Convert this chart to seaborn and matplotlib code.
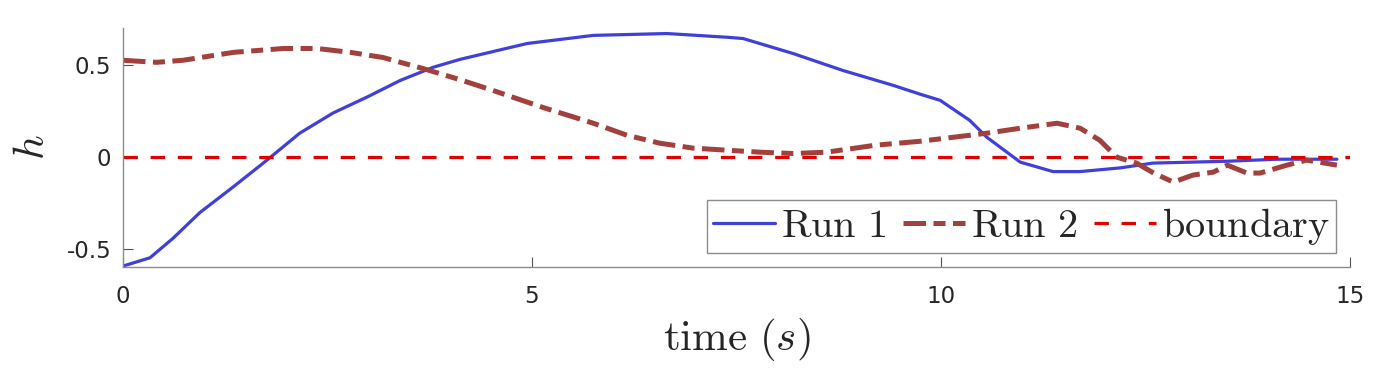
import matplotlib
matplotlib.use("Agg")
import matplotlib.pyplot as plt
import seaborn as sns
import pandas as pd

# ---- data ----
t_run1 = [0, 0.33, 0.61, 0.94, 1.35, 1.76, 2.16, 2.57, 2.98, 3.39, 3.79, 4.12, 4.94,
          5.75, 6.65, 7.38, 7.58, 8.19, 8.8, 9.41, 9.74, 9.99, 10.35, 10.56, 10.97,
          11.37, 11.7, 12.19, 12.59, 13.5, 14.11, 14.84]
h_run1 = [-0.59, -0.545, -0.44, -0.30, -0.16, -0.016, 0.13, 0.24, 0.325, 0.416, 0.487,
          0.53, 0.616, 0.66, 0.67, 0.65, 0.643, 0.562, 0.47, 0.39, 0.342, 0.308, 0.2,
          0.108, -0.027, -0.078, -0.078, -0.058, -0.032, -0.022, -0.011, -0.011]

t_run2 = [0, 0.41, 0.73, 1.35, 1.96, 2.37, 2.78, 3.18, 3.67, 4.12, 4.52, 5.13, 5.75,
          6.16, 6.56, 6.97, 7.79, 8.19, 8.6, 9.2, 9.74, 10.56, 10.97, 11.42, 11.70,
          11.94, 12.15, 12.39, 12.6, 12.84, 13.08, 13.33, 13.5, 13.74, 13.9, 14.23,
          14.47, 14.84]
h_run2 = [0.525, 0.514, 0.525, 0.568, 0.589, 0.589, 0.568, 0.54, 0.48, 0.42, 0.362,
          0.27, 0.184, 0.119, 0.076, 0.049, 0.027, 0.02, 0.027, 0.065, 0.086, 0.13,
          0.157, 0.184, 0.157, 0.092, 0.0, -0.032, -0.086, -0.135, -0.097, -0.081,
          -0.043, -0.086, -0.086, -0.043, -0.016, -0.043]

t_boundary = [0, 15]
h_boundary = [0, 0]

series_labels = [r"$\mathrm{Run\ 1}$", r"$\mathrm{Run\ 2}$", r"$\mathrm{boundary}$"]
x_ticks = [0, 5, 10, 15]
y_ticks = [-0.5, 0, 0.5]
y_tick_labels = ["-0.5", "0", "0.5"]

# ---- styling ----
sns.set_theme(style="ticks")
plt.rcParams["font.family"] = ["DejaVu Sans"]
plt.rcParams["mathtext.fontset"] = "cm"

fig = plt.figure(figsize=(13.77, 3.71), dpi=100)
ax = fig.add_axes([123 / 1377, 1 - 267 / 371, (1350 - 123) / 1377, (267 - 28) / 371])

df1 = pd.DataFrame({"t": t_run1, "h": h_run1})
df2 = pd.DataFrame({"t": t_run2, "h": h_run2})
dfb = pd.DataFrame({"t": t_boundary, "h": h_boundary})

sns.lineplot(data=df1, x="t", y="h", ax=ax, color="#3f3fd9", lw=2.3,
             label=series_labels[0], sort=False, estimator=None)
sns.lineplot(data=df2, x="t", y="h", ax=ax, color="#a2403e", lw=3.6,
             label=series_labels[1], sort=False, estimator=None)
ax.lines[-1].set_dashes((4.5, 1.5, 2.4, 1.5))
sns.lineplot(data=dfb, x="t", y="h", ax=ax, color="#e00000", lw=2.3,
             label=series_labels[2], sort=False, estimator=None)
ax.lines[-1].set_dashes((4.5, 4.0))

ax.set_xlim(0, 15)
ax.set_ylim(-0.595, 0.70)
ax.set_xticks(x_ticks)
ax.set_xticklabels([str(v) for v in x_ticks])
ax.set_yticks(y_ticks)
ax.set_yticklabels(y_tick_labels)
ax.tick_params(direction="in", length=7, width=0.8, color="#555555",
               labelsize=16.5, labelcolor="#262626")
ax.tick_params(axis="x", pad=13)
ax.tick_params(axis="y", pad=8.5)

for s in ["top", "right"]:
    ax.spines[s].set_visible(False)
for s in ["left", "bottom"]:
    ax.spines[s].set_color("#8c8c8c")
    ax.spines[s].set_linewidth(1.0)

ax.set_xlabel(r"$\mathrm{time}\ (s)$", fontsize=31, labelpad=6)
ax.set_ylabel(r"$h$", fontsize=31, labelpad=10, rotation=90)

leg = ax.legend(loc="lower right", ncol=3, fontsize=29, frameon=True,
                fancybox=False, framealpha=1, edgecolor="#8c8c8c",
                handlelength=1.55, handletextpad=0.15, columnspacing=0.4,
                borderpad=0.15, borderaxespad=0.35)
leg.get_frame().set_linewidth(1.0)

fig.savefig("out.png", dpi=100)
